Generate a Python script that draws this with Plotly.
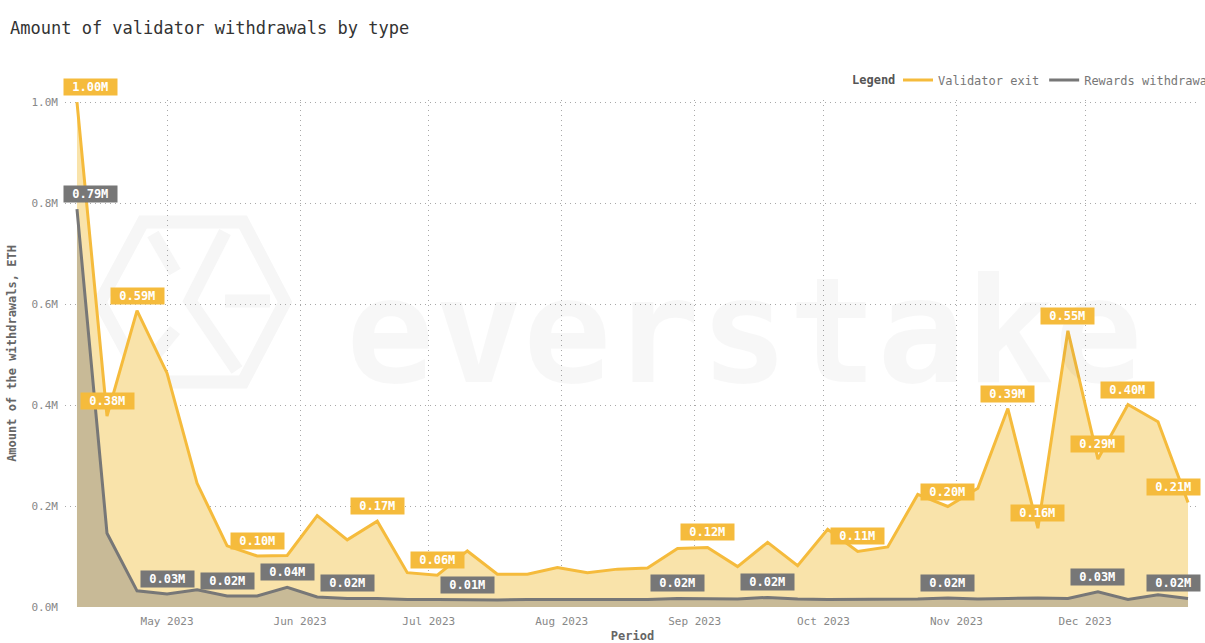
import plotly.graph_objects as go

# ---------------- data ----------------
periods = [
    "2023-04-10", "2023-04-17", "2023-04-24", "2023-05-01", "2023-05-08", "2023-05-15",
    "2023-05-22", "2023-05-29", "2023-06-05", "2023-06-12", "2023-06-19", "2023-06-26",
    "2023-07-03", "2023-07-10", "2023-07-17", "2023-07-24", "2023-07-31", "2023-08-07",
    "2023-08-14", "2023-08-21", "2023-08-28", "2023-09-04", "2023-09-11", "2023-09-18",
    "2023-09-25", "2023-10-02", "2023-10-09", "2023-10-16", "2023-10-23", "2023-10-30",
    "2023-11-06", "2023-11-13", "2023-11-20", "2023-11-27", "2023-12-04", "2023-12-11",
    "2023-12-18", "2023-12-25",
]

# millions of ETH
validator_exit = [
    1.000, 0.378, 0.587, 0.463, 0.245, 0.121, 0.101, 0.102, 0.181, 0.133, 0.170, 0.068,
    0.063, 0.111, 0.065, 0.065, 0.078, 0.068, 0.075, 0.077, 0.116, 0.118, 0.080, 0.128,
    0.082, 0.154, 0.110, 0.119, 0.223, 0.199, 0.235, 0.393, 0.156, 0.547, 0.293, 0.401,
    0.367, 0.207,
]

rewards_withdrawals = [
    0.788, 0.146, 0.032, 0.026, 0.034, 0.022, 0.022, 0.039, 0.020, 0.017, 0.017, 0.015,
    0.015, 0.014, 0.014, 0.015, 0.015, 0.015, 0.014, 0.015, 0.017, 0.017, 0.016, 0.019,
    0.016, 0.015, 0.015, 0.015, 0.016, 0.018, 0.016, 0.017, 0.018, 0.017, 0.030, 0.015,
    0.024, 0.017,
]

validator_label_idx = [0, 1, 2, 6, 10, 12, 21, 26, 29, 31, 32, 33, 34, 35, 37]
rewards_label_idx = [0, 3, 5, 7, 9, 13, 20, 23, 29, 34, 37]

series_names = ["Validator exit", "Rewards withdrawals"]

y_tick_values = [0.0, 0.2, 0.4, 0.6, 0.8, 1.0]
y_tick_labels = ["0.0M", "0.2M", "0.4M", "0.6M", "0.8M", "1.0M"]

# ---------------- styling ----------------
ORANGE = "#F5BB3C"
ORANGE_FILL = "#F9E3AA"
GRAY = "#777777"
GRAY_FILL = "#C8BA97"
MONO = "DejaVu Sans Mono"
GRID = "#A8A8A8"
GRID_DASH = "1px,4px"

W, H = 1205, 643
PL, PR, PT, PB = 65, 5, 100, 36
PW, PH = W - PL - PR, H - PT - PB

fig = go.Figure()

# area fills
fig.add_trace(go.Scatter(x=periods, y=validator_exit, mode="lines", line=dict(width=0, color=ORANGE),
                         fill="tozeroy", fillcolor=ORANGE_FILL, showlegend=False, hoverinfo="skip"))
fig.add_trace(go.Scatter(x=periods, y=rewards_withdrawals, mode="lines", line=dict(width=0, color=GRAY),
                         fill="tozeroy", fillcolor=GRAY_FILL, showlegend=False, hoverinfo="skip"))
# lines
fig.add_trace(go.Scatter(x=periods, y=rewards_withdrawals, mode="lines", name=series_names[1],
                         line=dict(color=GRAY, width=3), legendrank=2))
fig.add_trace(go.Scatter(x=periods, y=validator_exit, mode="lines", name=series_names[0],
                         line=dict(color=ORANGE, width=3), legendrank=1))

# value labels
annotations = []
def add_labels(values, idxs, bg):
    n = len(values)
    for i in idxs:
        xa, xs = "center", 0
        if i == 0:
            xa, xs = "left", -14
        elif i == n - 1:
            xa, xs = "right", 13
        annotations.append(dict(
            x=periods[i], y=values[i], xref="x", yref="y",
            text=f" {values[i]:.2f}M ", showarrow=False,
            xanchor=xa, yanchor="middle", xshift=xs, yshift=15,
            bgcolor=bg, borderpad=1,
            font=dict(family=MONO, size=12, color="white", weight="bold"),
        ))

add_labels(validator_exit, validator_label_idx, ORANGE)
add_labels(rewards_withdrawals, rewards_label_idx, GRAY)

# watermark text
annotations.insert(0, dict(
    x=(744 - PL) / PW, y=(H - PB - 331) / PH, xref="paper", yref="paper",
    text="everstake", showarrow=False, xanchor="center", yanchor="middle",
    font=dict(family=MONO, size=147, color="rgba(0,0,0,0.03)", weight="bold"),
))

# legend title
annotations.append(dict(
    x=(850 - PL) / PW, y=(H - PB - 80) / PH, xref="paper", yref="paper",
    text="Legend", showarrow=False, xanchor="left", yanchor="middle",
    font=dict(family=MONO, size=12, color="#555555", weight="bold"),
))

# watermark logo (decorative)
def px(x, y):
    return (x - PL) / PW, (H - PB - y) / PH

def path(points, closed=False):
    s = ""
    for k, (x, y) in enumerate(points):
        xp, yp = px(x, y)
        s += ("M" if k == 0 else "L") + f"{xp:.4f},{yp:.4f} "
    return s + ("Z" if closed else "")

logo_color = "#F6F6F6"
shapes = [
    dict(type="path", xref="paper", yref="paper", layer="below",
         path=path([(100, 302), (143, 222), (243, 222), (285, 302), (243, 382), (143, 382)], True),
         line=dict(color=logo_color, width=13)),
    dict(type="path", xref="paper", yref="paper", layer="below",
         path=path([(225, 232), (190, 301), (237, 370)]), line=dict(color=logo_color, width=13)),
    dict(type="path", xref="paper", yref="paper", layer="below",
         path=path([(225, 301), (270, 301)]), line=dict(color=logo_color, width=13)),
    dict(type="path", xref="paper", yref="paper", layer="below",
         path=path([(153, 234), (175, 272)]), line=dict(color=logo_color, width=13)),
    dict(type="path", xref="paper", yref="paper", layer="below",
         path=path([(175, 330), (145, 367)]), line=dict(color=logo_color, width=13)),
]

fig.update_layout(
    width=W, height=H,
    margin=dict(l=PL, r=PR, t=PT, b=PB, autoexpand=False),
    paper_bgcolor="white", plot_bgcolor="white",
    font=dict(family=MONO, color="#888888", size=11),
    title=dict(text="Amount of validator withdrawals by type",
               x=10 / W, xref="container", xanchor="left",
               y=1 - 28 / H, yref="container", yanchor="middle",
               font=dict(family=MONO, size=17, color="#333333")),
    legend=dict(orientation="h", x=(898 - PL) / PW, xanchor="left", y=(H - PB - 80) / PH, yanchor="middle",
                font=dict(family=MONO, size=12, color="#777777"),
                bgcolor="rgba(0,0,0,0)", itemwidth=30, tracegroupgap=0),
    xaxis=dict(
        type="date", range=["2023-04-07 05:00", "2023-12-27 19:00"],
        dtick="M1", tick0="2023-05-01", tickformat="%b %Y",
        showgrid=True, gridcolor=GRID, griddash=GRID_DASH, gridwidth=1,
        zeroline=False, showline=False, ticks="", ticklabelstandoff=6,
        tickfont=dict(family=MONO, size=11, color="#888888"),
        title=dict(text="Period", standoff=6,
                   font=dict(family=MONO, size=12, color="#666666", weight="bold")),
        automargin=False,
    ),
    yaxis=dict(
        range=[0, 1.004], tickvals=y_tick_values, ticktext=y_tick_labels,
        showgrid=True, gridcolor=GRID, griddash=GRID_DASH, gridwidth=1,
        zeroline=False, showline=False, ticks="", ticklabelstandoff=6,
        tickfont=dict(family=MONO, size=11, color="#888888"),
        title=dict(text="Amount of the withdrawals, ETH", standoff=12,
                   font=dict(family=MONO, size=12, color="#666666", weight="bold")),
        automargin=False,
    ),
    annotations=annotations,
    shapes=shapes,
    hovermode=False,
)

fig.write_html("out.html", config={"displayModeBar": False},
               post_script="document.body.style.margin='0';document.body.style.overflow='hidden';")
